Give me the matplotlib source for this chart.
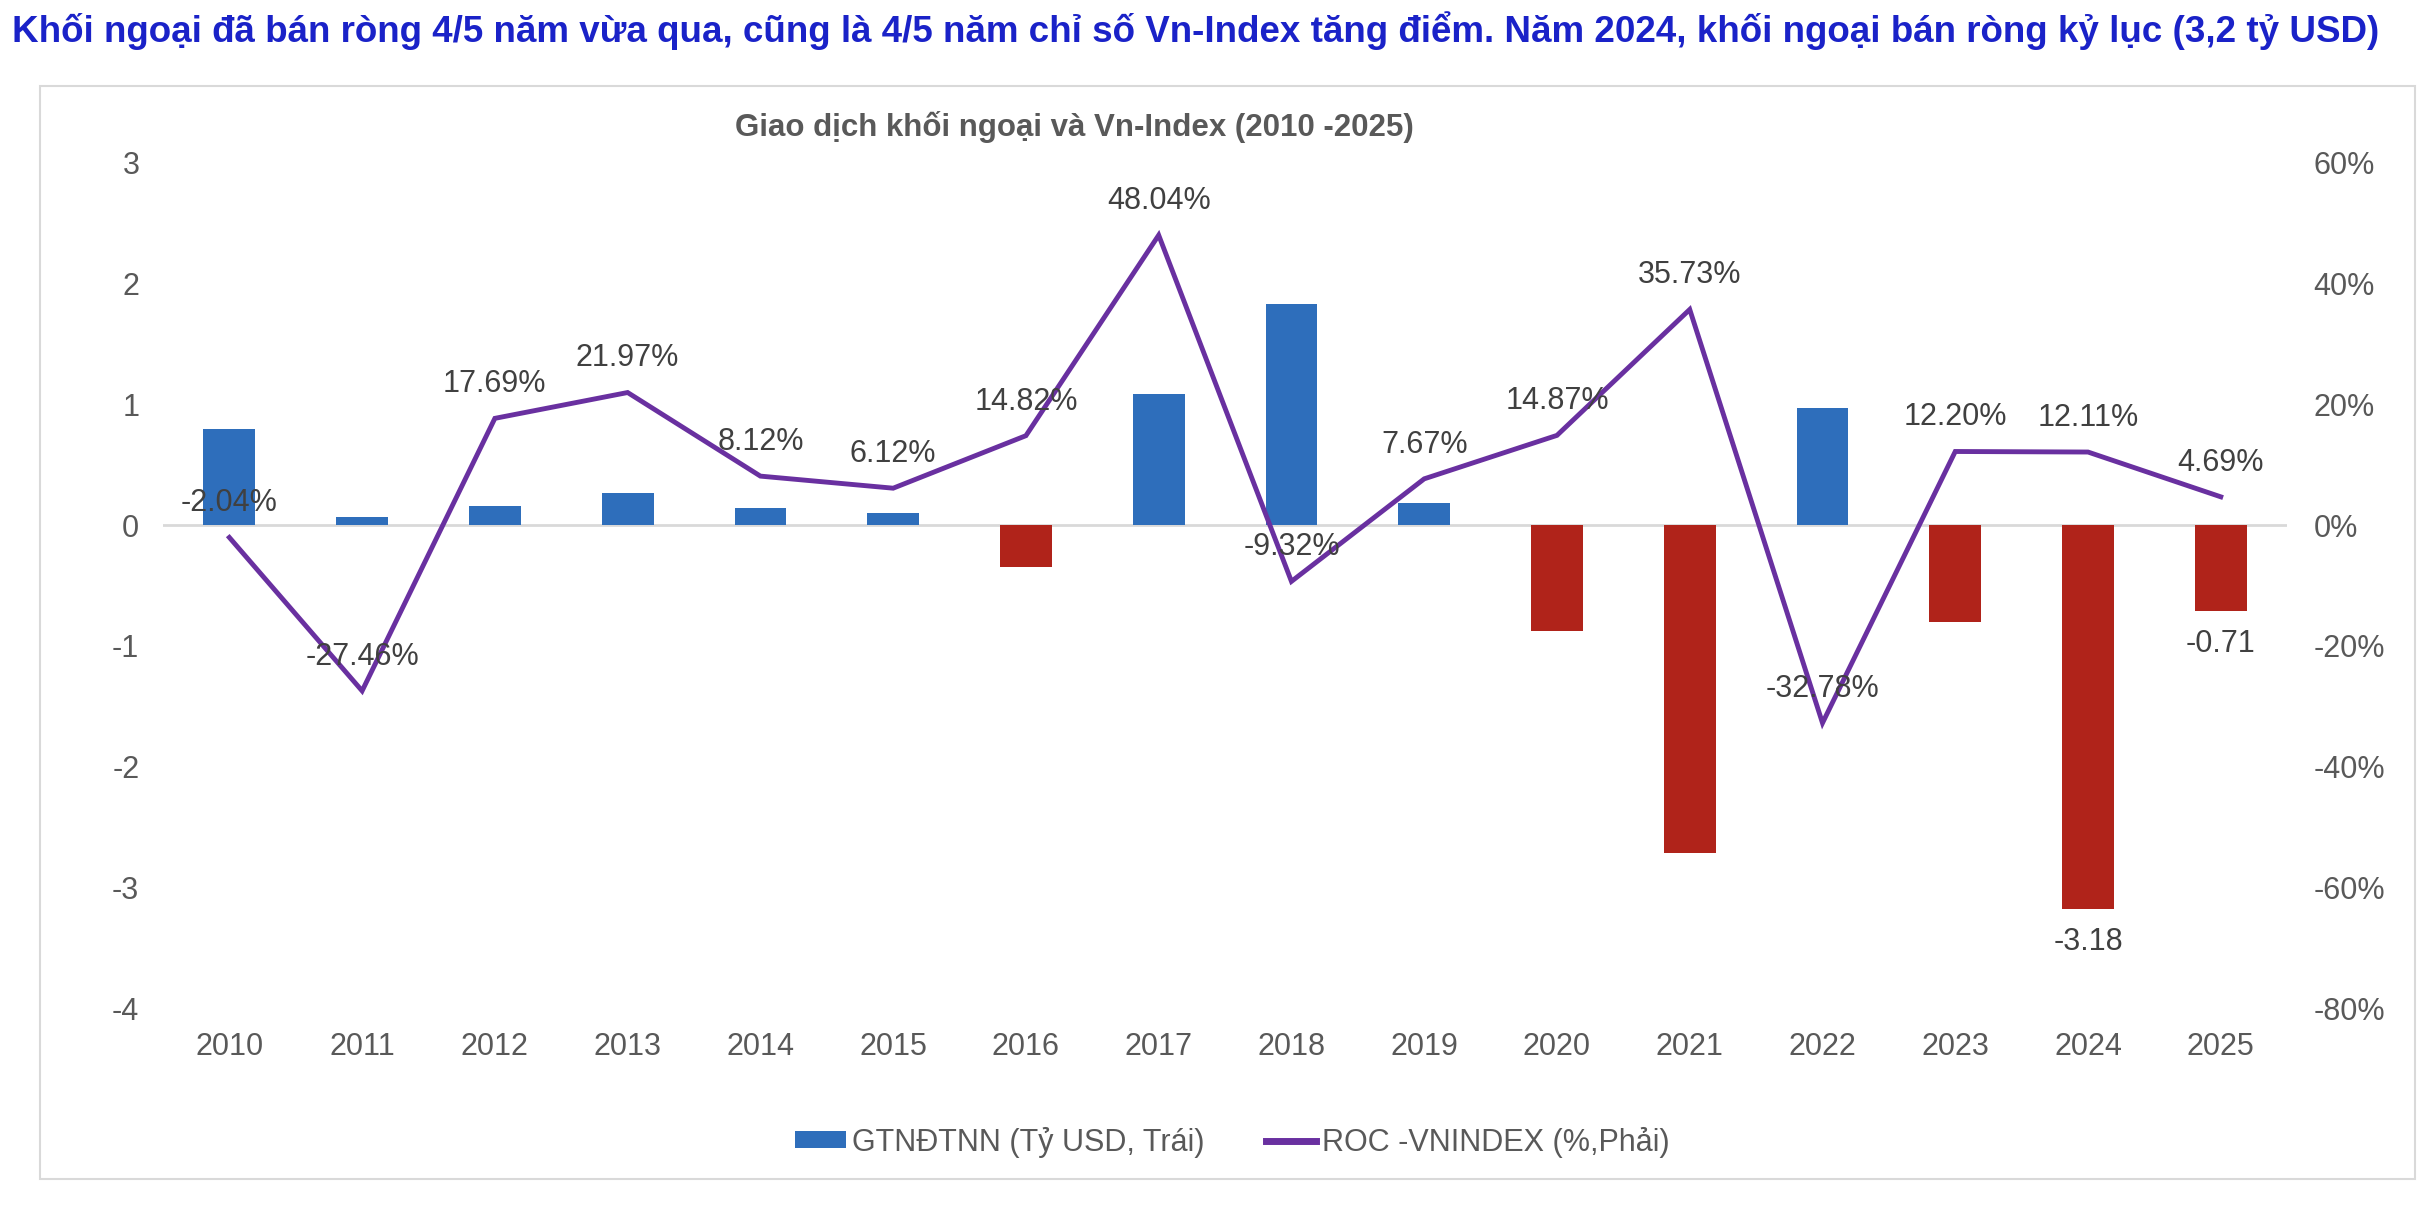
import matplotlib.pyplot as plt
from matplotlib.patches import Patch, Rectangle
from matplotlib.lines import Line2D
from matplotlib.ticker import FuncFormatter

plt.rcParams['font.family'] = ['Liberation Sans', 'DejaVu Sans']
plt.rcParams['axes.unicode_minus'] = False

years = ['2010', '2011', '2012', '2013', '2014', '2015', '2016', '2017',
         '2018', '2019', '2020', '2021', '2022', '2023', '2024', '2025']
net_flow = [0.80, 0.07, 0.16, 0.27, 0.14, 0.10, -0.35, 1.09,
            1.83, 0.18, -0.88, -2.72, 0.97, -0.80, -3.18, -0.71]
roc = [-2.04, -27.46, 17.69, 21.97, 8.12, 6.12, 14.82, 48.04,
       -9.32, 7.67, 14.87, 35.73, -32.78, 12.20, 12.11, 4.69]
bar_labels = {'2024': '-3.18', '2025': '-0.71'}

blue = '#2E6EBB'
red = '#B0231A'
purple = '#6930A0'
tick_col = '#595959'
lab_col = '#404040'
fs = 22

fig = plt.figure(figsize=(24.36, 12.18), dpi=100)
ax = fig.add_axes([0.0669, 0.1724, 0.872, 0.6938])
ax2 = ax.twinx()

x = list(range(len(years)))
colors = [blue if v >= 0 else red for v in net_flow]
ax.bar(x, net_flow, width=0.39, color=colors, zorder=2)
ax.axhline(0, color='#D9D9D9', lw=2, zorder=1)
ax.set_ylim(-4, 3)
ax.set_xlim(-0.5, len(years) - 0.5)
ax.set_xticks(x)
ax.set_xticklabels(years)
ax.set_yticks(range(-4, 4))

for i, y in enumerate(years):
    if y in bar_labels:
        ax.annotate(bar_labels[y], (i, net_flow[i]), xytext=(0, -24),
                    textcoords='offset points', ha='center', va='center',
                    fontsize=fs, color=lab_col)

ax2.plot(x, roc, color=purple, lw=3.5, zorder=3, solid_joinstyle='miter')
ax2.set_ylim(-80, 60)
ax2.set_yticks(range(-80, 61, 20))
ax2.yaxis.set_major_formatter(FuncFormatter(lambda v, p: '%d%%' % v))
for i, v in enumerate(roc):
    ax2.annotate('%.2f%%' % v, (i, v), xytext=(0, 24.5),
                 textcoords='offset points', ha='center', va='center',
                 fontsize=fs, color=lab_col)

for a in (ax, ax2):
    for s in a.spines.values():
        s.set_visible(False)
    a.tick_params(length=0, labelsize=fs, labelcolor=tick_col)
ax.tick_params(axis='y', pad=17)
ax.tick_params(axis='x', pad=17)
ax2.tick_params(axis='y', pad=19)

fig.text(0.005, 0.9745,
         'Khối ngoại đã bán ròng 4/5 năm vừa qua, cũng là 4/5 năm chỉ số Vn-Index tăng điểm. '
         'Năm 2024, khối ngoại bán ròng kỷ lục (3,2 tỷ USD)',
         ha='left', va='center', fontsize=26.5, fontweight='bold', color='#1A22C8')
fig.text(0.441, 0.896, 'Giao dịch khối ngoại và Vn-Index (2010 -2025)',
         ha='center', va='center', fontsize=22.5, fontweight='bold', color=tick_col)

fig.patches.append(Rectangle((0.0164, 0.032), 0.975, 0.897, transform=fig.transFigure,
                             fill=False, edgecolor='#D9D9D9', lw=1.5))

handles = [Patch(facecolor=blue, label='GTNĐTNN (Tỷ USD, Trái)'),
           Line2D([0], [0], color=purple, lw=5, label='ROC -VNINDEX (%,Phải)')]
fig.legend(handles=handles, loc='center', bbox_to_anchor=(0.506, 0.0624), ncol=2,
           frameon=False, fontsize=fs, labelcolor=tick_col, handlelength=1.65,
           handleheight=0.5, handletextpad=0.2, columnspacing=2.0)

fig.savefig('out.png', dpi=100)
